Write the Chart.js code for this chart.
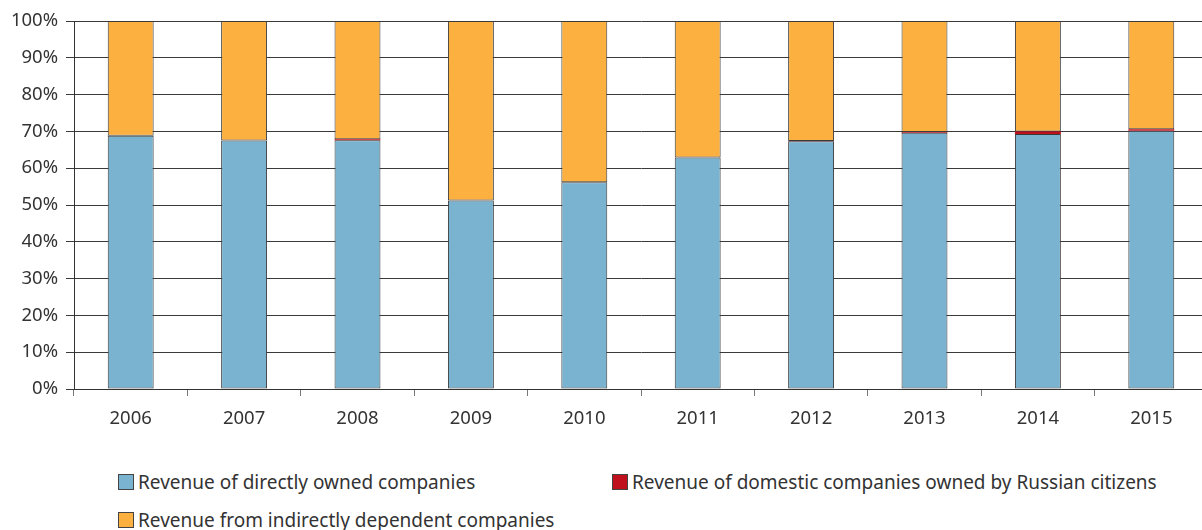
<!DOCTYPE html>
<html>
<head>
<meta charset="utf-8">
<script src="https://cdn.jsdelivr.net/npm/chart.js@4/dist/chart.umd.min.js"></script>
<style>
  html, body { margin: 0; padding: 0; background: #fff; overflow: hidden; }
  #wrap { position: absolute; left: 0; top: 0; width: 1208px; height: 440px; }
  .legend { position: absolute; font-family: "Noto Sans", sans-serif; font-size: 19px; line-height: 24px; color: #333; white-space: nowrap; }
  .legend span.box { display: inline-block; width: 14px; height: 14px; border: 1px solid #444; vertical-align: -1px; margin-right: 4px; }
</style>
</head>
<body>
<div id="wrap"><canvas id="c"></canvas></div>
<div class="legend" style="left:118px; top:470px;"><span class="box" style="background:#7ab3d0"></span>Revenue of directly owned companies</div>
<div class="legend" style="left:612px; top:470px;"><span class="box" style="background:#c0101e"></span>Revenue of domestic companies owned by Russian citizens</div>
<div class="legend" style="left:118px; top:508px;"><span class="box" style="background:#fbb040"></span>Revenue from indirectly dependent companies</div>
<script>
// years on the x axis
const years = ['2006', '2007', '2008', '2009', '2010', '2011', '2012', '2013', '2014', '2015'];

// shares in percent
const directlyOwned = [68.8, 67.5, 67.6, 51.2, 56.2, 62.9, 67.3, 69.6, 69.3, 70.2];
const russianOwned  = [0.0, 0.0, 0.25, 0.0, 0.0, 0.0, 0.1, 0.25, 0.7, 0.4];
const indirectly    = directlyOwned.map((v, i) => 100 - v - russianOwned[i]);

const ctx = document.getElementById('c');

new Chart(ctx, {
    type: 'bar',
    data: {
        labels: years,
        datasets: [
            {
                label: 'Revenue of directly owned companies',
                data: directlyOwned,
                backgroundColor: '#7ab3d0',
                borderColor: '#3a3a3a',
                borderWidth: 1,
                borderSkipped: false
            },
            {
                label: 'Revenue of domestic companies owned by Russian citizens',
                data: russianOwned,
                backgroundColor: '#c0101e',
                borderWidth: 0
            },
            {
                label: 'Revenue from indirectly dependent companies',
                data: indirectly,
                backgroundColor: '#fbb040',
                borderColor: '#3a3a3a',
                borderWidth: 1,
                borderSkipped: false
            }
        ]
    },
    options: {
        responsive: true,
        maintainAspectRatio: false,
        animation: false,
        layout: {
            padding: { top: 21, left: 0, right: 0, bottom: 0 }
        },
        datasets: {
            bar: {
                categoryPercentage: 1,
                barPercentage: 0.405
            }
        },
        plugins: {
            legend: { display: false },
            tooltip: { enabled: false }
        },
        scales: {
            x: {
                stacked: true,
                grid: {
                    display: true,
                    offset: true,
                    drawOnChartArea: false,
                    drawTicks: true,
                    tickLength: 7,
                    color: '#777'
                },
                border: { display: true, color: '#333' },
                ticks: {
                    padding: 12,
                    color: '#333',
                    font: { family: 'Noto Sans', size: 18.5 }
                },
                afterFit: (scale) => { scale.height = 51; }
            },
            y: {
                stacked: true,
                min: 0,
                max: 100,
                grid: {
                    color: '#3a3a3a',
                    tickLength: 8,
                    lineWidth: 1
                },
                border: { display: true, color: '#333' },
                ticks: {
                    stepSize: 10,
                    padding: 8,
                    color: '#333',
                    font: { family: 'Noto Sans', size: 18.5 },
                    callback: (v) => v + '%'
                },
                afterFit: (scale) => { scale.width = 74; }
            }
        }
    }
});
</script>
</body>
</html>
